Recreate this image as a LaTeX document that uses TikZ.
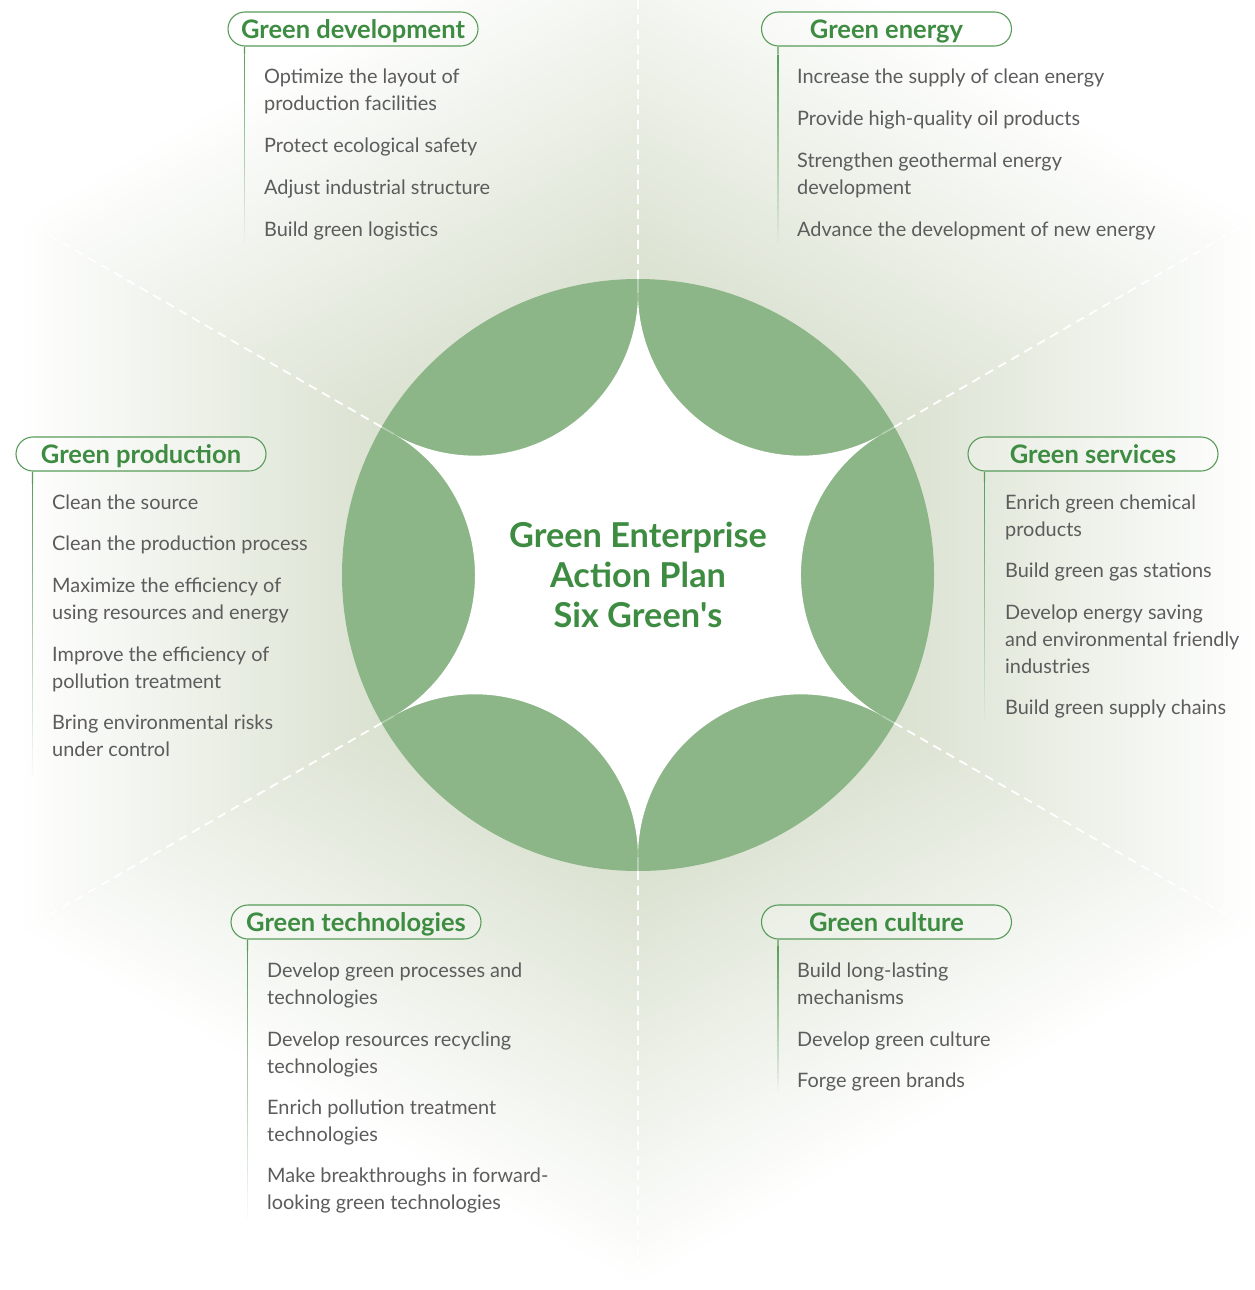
\documentclass[tikz,border=0pt]{standalone}
\usepackage{fontspec}
\setmainfont{Lato}
\usetikzlibrary{calc}
\definecolor{petal}{RGB}{140,181,136}
\definecolor{titlegreen}{RGB}{62,140,66}
\definecolor{tabline}{RGB}{88,156,90}
\definecolor{bodygray}{RGB}{92,92,92}
\definecolor{bgcenter}{RGB}{192,205,176}
\newcommand\myfadeline[2]{%
  \foreach \k in {0,...,23}{%
    \draw[tabline, line width=1.4pt, draw opacity={1-\k/24}]
      ($([xshift=17pt]#1.south west)!{\k/24}!(#2)$) --
      ($([xshift=17pt]#1.south west)!{(\k+1)/24}!(#2)$);
  }%
}
\begin{document}
\begin{tikzpicture}[x=1pt,y=-1pt,
  tabbox/.style={draw=tabline, line width=1.1pt, rounded corners=17pt,
    minimum width=250pt, minimum height=34pt, inner sep=0pt,
    text height=18.4pt, text depth=0pt,
    fill=white, fill opacity=0.25, text opacity=1, text=titlegreen,
    font=\fontsize{25.5}{25.5}\selectfont\bfseries},
  itemtext/.style={anchor=base west, inner sep=0pt, text=bodygray, align=left,
    font=\fontsize{19.9}{27}\selectfont},
  sepline/.style={draw=white, line width=1.8pt, dash pattern=on 9pt off 6pt},
  centertext/.style={align=center, text=titlegreen, inner sep=0pt,
    font=\fontsize{34.3}{40}\selectfont\bfseries}
]
\useasboundingbox (0,0) rectangle (1255,1290);
\clip (0,0) rectangle (1255,1290);
\fill[white] (0,0) rectangle (1255,1290);
% hexagonal background sectors
\foreach \a in {0,60,...,300} {
  \begin{scope}[transform canvas={shift={(638,575)}, rotate=\a}]
    \shade[left color=bgcenter, right color=white]
      (0pt,0pt) -- (620pt,360pt) -- (620pt,-360pt) -- cycle;
  \end{scope}
}
\coordinate (O) at (638,575);
% central ring with star
\fill[petal] (O) circle[radius=296pt];
\begin{scope}[shift={(638,575)}]
  \fill[white] (-30:282.3pt)
    \foreach \i in {0,...,5}{ arc[start angle={60*\i+240}, end angle={60*\i+120}, radius=163pt] } -- cycle;
  \foreach \a in {30,90,...,330} {
    \draw[sepline] (\a:296pt) -- (\a:720pt);
    \draw[white, opacity=0.35, line width=1.6pt] (\a:282pt) -- (\a:296pt);
  }
\end{scope}
\node[centertext] (center) at (638,575) {Green Enterprise\\Action Plan\\Six Green\textquotesingle s};

% tabs
\node[tabbox] (dev) at (353,29) {Green development};
\node[tabbox] (energy) at (886.5,29) {Green energy};
\node[tabbox] (prod) at (141,454) {Green production};
\node[tabbox] (serv) at (1093,454) {Green services};
\node[tabbox] (tech) at (356,922) {Green technologies};
\node[tabbox] (cult) at (886.5,922) {Green culture};

% vertical fading lines
\coordinate (devEnd) at ($(dev.south west)+(17,196)$);
\coordinate (energyEnd) at ($(energy.south west)+(17,196)$);
\coordinate (prodEnd) at ($(prod.south west)+(17,303)$);
\coordinate (servEnd) at ($(serv.south west)+(17,250)$);
\coordinate (techEnd) at ($(tech.south west)+(17,278)$);
\coordinate (cultEnd) at ($(cult.south west)+(17,152)$);
\myfadeline{dev}{devEnd}
\myfadeline{energy}{energyEnd}
\myfadeline{prod}{prodEnd}
\myfadeline{serv}{servEnd}
\myfadeline{tech}{techEnd}
\myfadeline{cult}{cultEnd}

% items (anchor = baseline of the last line)
% Green development
\node[itemtext] (dev1) at (264,110.5) {Optimize the layout of\\production facilities};
\node[itemtext] (dev2) at (264,152.5) {Protect ecological safety};
\node[itemtext] (dev3) at (264,194.5) {Adjust industrial structure};
\node[itemtext] (dev4) at (264,236.5) {Build green logistics};
% Green energy
\node[itemtext] (en1) at (797,83.5) {Increase the supply of clean energy};
\node[itemtext] (en2) at (797,125.5) {Provide high-quality oil products};
\node[itemtext] (en3) at (797,194.5) {Strengthen geothermal energy\\development};
\node[itemtext] (en4) at (797,236.5) {Advance the development of new energy};
% Green production
\node[itemtext] (pr1) at (52,509.5) {Clean the source};
\node[itemtext] (pr2) at (52,550.5) {Clean the production process};
\node[itemtext] (pr3) at (52,619.5) {Maximize the efficiency of\\using resources and energy};
\node[itemtext] (pr4) at (52,688.5) {Improve the efficiency of\\pollution treatment};
\node[itemtext] (pr5) at (52,756.5) {Bring environmental risks\\under control};
% Green services
\node[itemtext] (se1) at (1005,536.5) {Enrich green chemical\\products};
\node[itemtext] (se2) at (1005,577.5) {Build green gas stations};
\node[itemtext] (se3) at (1005,673.5) {Develop energy saving\\and environmental friendly\\industries};
\node[itemtext] (se4) at (1005,714.5) {Build green supply chains};
% Green technologies
\node[itemtext] (te1) at (267,1004.5) {Develop green processes and\\technologies};
\node[itemtext] (te2) at (267,1073.5) {Develop resources recycling\\technologies};
\node[itemtext] (te3) at (267,1141.5) {Enrich pollution treatment\\technologies};
\node[itemtext] (te4) at (267,1209.5) {Make breakthroughs in forward-\\looking green technologies};
% Green culture
\node[itemtext] (cu1) at (797,1004.5) {Build long-lasting\\mechanisms};
\node[itemtext] (cu2) at (797,1046.5) {Develop green culture};
\node[itemtext] (cu3) at (797,1087.5) {Forge green brands};
\end{tikzpicture}
\end{document}
